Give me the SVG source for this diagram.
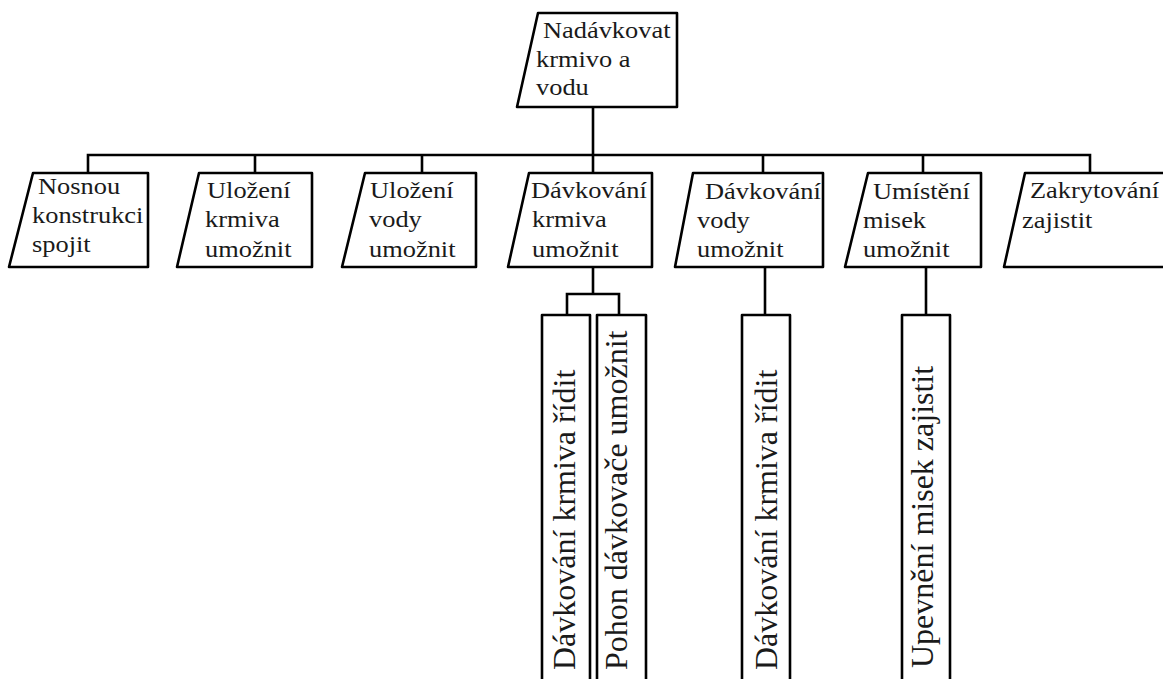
<svg xmlns="http://www.w3.org/2000/svg" width="1163" height="679" viewBox="0 0 1163 679">
<style>
.sh{fill:#fff;stroke:#000;stroke-width:2.6;stroke-linejoin:round}
.ln{fill:none;stroke:#000;stroke-width:2.6;stroke-linejoin:miter}
.t{font-family:'Liberation Serif','Times New Roman',Times,Tinos,'DejaVu Serif','Noto Serif',serif;font-size:24px;fill:#1a1a1a}
.v{font-family:'Liberation Serif','Times New Roman',Times,Tinos,'DejaVu Serif','Noto Serif',serif;font-size:32px;fill:#1a1a1a}
</style>
<rect width="1163" height="679" fill="#fff"/>
<g id="connectors">
<path class="ln" d="M593,107 V173"/>
<path class="ln" d="M88,173 V155 H1090 V173"/>
<path class="ln" d="M255,155 V173 M422,155 V173 M763,155 V173 M923,155 V173"/>
<path class="ln" d="M593,267 V294 M567,315 V294 H619 V315"/>
<path class="ln" d="M765,267 V315"/>
<path class="ln" d="M926,267 V315"/>
</g>
<g id="n0">
<path class="sh" d="M538,13 H677 V107 H517 Z"/>
<text class="t" transform="translate(543,38) scale(1.1,1)">Nadávkovat</text>
<text class="t" transform="translate(536,67) scale(1.1,1)">krmivo a</text>
<text class="t" transform="translate(536,95) scale(1.1,1)">vodu</text>
</g>
<g id="n1">
<path class="sh" d="M33,173 H148 V267 H9 Z"/>
<text class="t" transform="translate(38,194) scale(1.1,1)">Nosnou</text>
<text class="t" transform="translate(32,223) scale(1.1,1)">konstrukci</text>
<text class="t" transform="translate(32,252) scale(1.1,1)">spojit</text>
</g>
<g id="n2">
<path class="sh" d="M199,173 H312 V267 H177 Z"/>
<text class="t" transform="translate(207,198) scale(1.1,1)">Uložení</text>
<text class="t" transform="translate(205,227) scale(1.1,1)">krmiva</text>
<text class="t" transform="translate(205,257) scale(1.1,1)">umožnit</text>
</g>
<g id="n3">
<path class="sh" d="M365,173 H476 V267 H342 Z"/>
<text class="t" transform="translate(370,198) scale(1.1,1)">Uložení</text>
<text class="t" transform="translate(369,227) scale(1.1,1)">vody</text>
<text class="t" transform="translate(369,257) scale(1.1,1)">umožnit</text>
</g>
<g id="n4">
<path class="sh" d="M529,173 H652 V267 H508 Z"/>
<text class="t" transform="translate(531,198) scale(1.1,1)">Dávkování</text>
<text class="t" transform="translate(532,227) scale(1.1,1)">krmiva</text>
<text class="t" transform="translate(532,257) scale(1.1,1)">umožnit</text>
</g>
<g id="n5">
<path class="sh" d="M693,173 H823 V267 H675 Z"/>
<text class="t" transform="translate(705,199) scale(1.1,1)">Dávkování</text>
<text class="t" transform="translate(697,228) scale(1.1,1)">vody</text>
<text class="t" transform="translate(697,257) scale(1.1,1)">umožnit</text>
</g>
<g id="n6">
<path class="sh" d="M868,173 H981 V267 H845 Z"/>
<text class="t" transform="translate(873,199) scale(1.1,1)">Umístění</text>
<text class="t" transform="translate(863,228) scale(1.1,1)">misek</text>
<text class="t" transform="translate(863,257) scale(1.1,1)">umožnit</text>
</g>
<g id="n7">
<path class="sh" d="M1025,173 H1180 V267 H1004 Z"/>
<text class="t" transform="translate(1030,198) scale(1.1,1)">Zakrytování</text>
<text class="t" transform="translate(1022,228) scale(1.1,1)">zajistit</text>
</g>
<g id="n8">
<rect class="sh" x="542" y="315" width="48" height="380"/>
<text class="v" transform="translate(575,670) rotate(-90)">Dávkování krmiva řídit</text>
</g>
<g id="n9">
<rect class="sh" x="597" y="315" width="49" height="380"/>
<text class="v" transform="translate(627,670) rotate(-90)">Pohon dávkovače umožnit</text>
</g>
<g id="n10">
<rect class="sh" x="742" y="315" width="48" height="380"/>
<text class="v" transform="translate(777,670) rotate(-90)">Dávkování krmiva řídit</text>
</g>
<g id="n11">
<rect class="sh" x="902" y="315" width="48" height="380"/>
<text class="v" transform="translate(933,668) rotate(-90)">Upevnění misek zajistit</text>
</g>
</svg>
